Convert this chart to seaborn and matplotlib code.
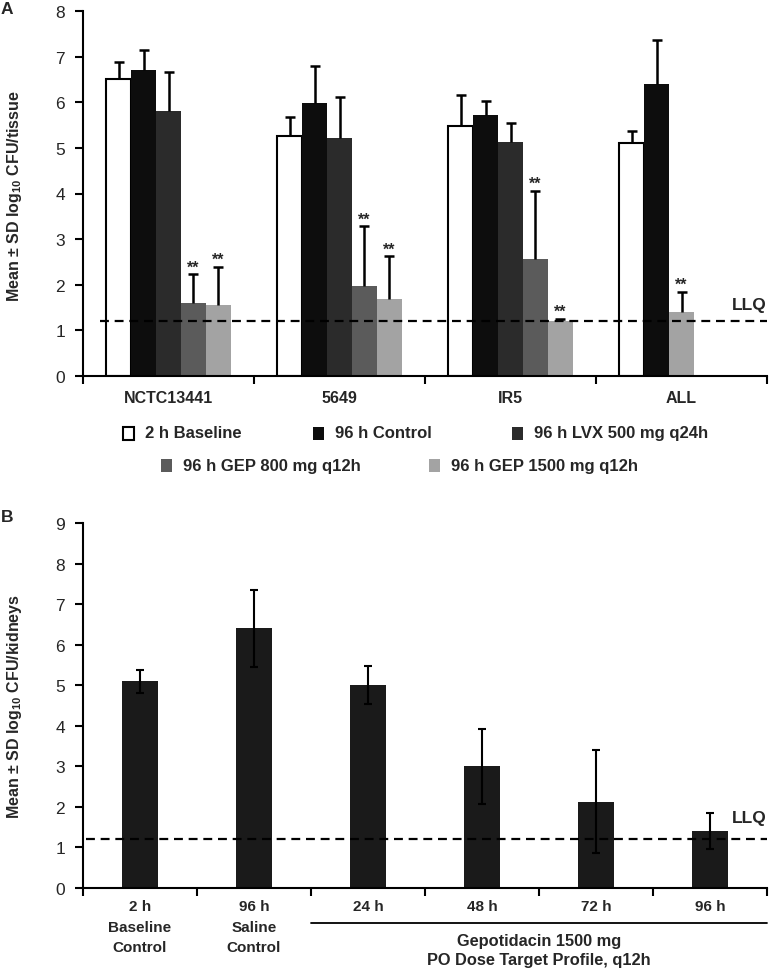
import numpy as np
import pandas as pd
import matplotlib
matplotlib.use("Agg")
import matplotlib.pyplot as plt
import matplotlib.font_manager as fm
from matplotlib.patches import Rectangle
from matplotlib.lines import Line2D
import seaborn as sns

# ---------------- data ----------------
strains = ["NCTC13441", "5649", "IR5", "ALL"]
treatments = ["2 h Baseline", "96 h Control", "96 h LVX 500 mg q24h",
              "96 h GEP 800 mg q12h", "96 h GEP 1500 mg q12h"]
bar_colors = ["#ffffff", "#0d0d0d", "#2b2b2b", "#5b5b5b", "#a3a3a3"]

nan = np.nan
mean_baseline = [6.51, 5.27, 5.48, 5.10]
sd_baseline = [0.37, 0.40, 0.68, 0.27]
mean_control = [6.71, 5.98, 5.71, 6.41]
sd_control = [0.43, 0.81, 0.32, 0.96]
mean_lvx = [5.80, 5.21, 5.13, nan]
sd_lvx = [0.87, 0.91, 0.41, nan]
mean_gep800 = [1.59, 1.97, 2.57, nan]
sd_gep800 = [0.64, 1.31, 1.49, nan]
mean_gep1500 = [1.56, 1.69, 1.21, 1.41]
sd_gep1500 = [0.83, 0.93, 0.04, 0.44]
signif_treatments = ["96 h GEP 800 mg q12h", "96 h GEP 1500 mg q12h"]

b_labels = ["2 h\nBaseline\nControl", "96 h\nSaline\nControl", "24 h", "48 h", "72 h", "96 h"]
b_means = [5.10, 6.41, 5.01, 3.00, 2.13, 1.41]
b_sd = [0.28, 0.95, 0.47, 0.92, 1.27, 0.44]
b_group_label = "Gepotidacin 1500 mg\nPO Dose Target Profile, q12h"

LLQ = 1.2

# ---------------- style ----------------
sns.set_theme(style="ticks")
names = {f.name for f in fm.fontManager.ttflist}
REG = "Liberation Sans" if "Liberation Sans" in names else "DejaVu Sans"
NARROW = "Liberation Sans Narrow" if "Liberation Sans Narrow" in names else REG
plt.rcParams["font.family"] = [REG, "DejaVu Sans"]
plt.rcParams["mathtext.fontset"] = "custom"
plt.rcParams["mathtext.rm"] = REG
plt.rcParams["mathtext.bf"] = REG + ":bold"
plt.rcParams["axes.linewidth"] = 1.5

W, H = 769, 970
fig = plt.figure(figsize=(W / 100, H / 100), dpi=100)
fig.patch.set_facecolor("white")


def fx(px):
    return px / W


def fy(py):
    return 1 - py / H


# ---------------- panel A ----------------
axA = fig.add_axes([fx(83), fy(377), fx(684), 365 / H])
group_w = 0.73
slot = group_w / len(treatments)
means_all = [mean_baseline, mean_control, mean_lvx, mean_gep800, mean_gep1500]
sds_all = [sd_baseline, sd_control, sd_lvx, sd_gep800, sd_gep1500]
rows = []
for si, s in enumerate(strains):
    k = 0
    for ti, t in enumerate(treatments):
        m = means_all[ti][si]
        if np.isnan(m):
            continue
        pos = round(si - group_w / 2 + slot * (k + 0.5), 4)
        rows.append(dict(strain=s, treatment=t, mean=m, sd=sds_all[ti][si], pos=pos))
        k += 1
dfA = pd.DataFrame(rows)

sns.barplot(data=dfA, x="pos", y="mean", hue="treatment", hue_order=treatments,
            palette=dict(zip(treatments, bar_colors)), native_scale=True,
            dodge=False, width=1.0, errorbar=None, legend=False,
            linewidth=0, saturation=1, ax=axA)
for p in axA.patches:
    fc = p.get_facecolor()
    if fc[0] > 0.95:
        p.set_edgecolor("black")
        p.set_linewidth(1.5)
    else:
        p.set_edgecolor(fc)
        p.set_linewidth(0)

axA.vlines(dfA["pos"], dfA["mean"], dfA["mean"] + dfA["sd"], color="black", lw=1.8, zorder=3)
axA.plot(dfA["pos"], dfA["mean"] + dfA["sd"], ls="none", marker="_", ms=7, mew=1.8,
         color="black", zorder=3)
for _, r in dfA[dfA["treatment"].isin(signif_treatments)].iterrows():
    axA.text(r["pos"], r["mean"] + r["sd"] + 0.06, "**", ha="center", va="baseline",
             fontsize=11.5, fontweight="bold")

axA.axhline(LLQ, xmin=0.025, xmax=1, color="black", lw=1.6, ls=(0, (4, 2.6)), zorder=4)
axA.text(3.5, 1.56, "LLQ", ha="right", va="center", fontsize=12.5, fontweight="bold")

axA.set_xlim(-0.5, 3.5)
axA.set_ylim(0, 8)
axA.set_yticks(range(0, 9))
axA.set_xticks(range(len(strains)))
axA.set_xticklabels(strains, fontsize=11.5, fontweight="bold")
axA.set_xticks(np.arange(-0.5, len(strains), 1.0), minor=True)
axA.tick_params(axis="x", which="major", length=0, pad=10)
axA.tick_params(axis="x", which="minor", length=6, width=1.5, color="black")
axA.tick_params(axis="y", length=6, width=1.5, labelsize=12.5, pad=7, color="black")
axA.set_xlabel("")
axA.set_ylabel("")
sns.despine(ax=axA)
for sp in ["left", "bottom"]:
    axA.spines[sp].set_color("black")
    axA.spines[sp].set_linewidth(1.5)
axA.set_facecolor("white")

fig.text(fx(15), fy(196), r"Mean ± SD log$_{\mathregular{10}}$ CFU/tissue", rotation=90,
         ha="center", va="center", fontsize=11.5, fontweight="bold")
fig.text(fx(1), fy(9), "A", ha="left", va="center", fontsize=12.5, fontweight="bold")

# legend (manual, two rows)
leg_items = [(0, 123, 434), (1, 313, 434), (2, 512, 434), (3, 161, 466), (4, 429, 466)]
for ti, x0, yc in leg_items:
    fig.add_artist(Rectangle((fx(x0), fy(yc + 6.5)), fx(11), 13 / H, transform=fig.transFigure,
                             facecolor=bar_colors[ti], edgecolor="black" if ti == 0 else bar_colors[ti],
                             lw=1.5 if ti == 0 else 0))
    fig.text(fx(x0 + 22), fy(yc), treatments[ti], ha="left", va="center",
             fontsize=12, fontweight="bold")

# ---------------- panel B ----------------
axB = fig.add_axes([fx(83), fy(889), fx(684), 365 / H])
dfB = pd.DataFrame(dict(label=b_labels, mean=b_means, sd=b_sd))
sns.barplot(data=dfB, x="label", y="mean", color="#1a1a1a", saturation=1, width=0.32,
            errorbar=None, linewidth=0, ax=axB)
axB.errorbar(np.arange(len(b_labels)), dfB["mean"], yerr=dfB["sd"], fmt="none",
             ecolor="black", elinewidth=1.5, capsize=3, capthick=1.5, zorder=3)
axB.axhline(LLQ, xmin=0.004, xmax=1, color="black", lw=1.6, ls=(0, (4, 2.6)), zorder=4)
axB.text(5.5, 1.75, "LLQ", ha="right", va="center", fontsize=12.5, fontweight="bold",
         family=[NARROW, "DejaVu Sans"])
axB.set_xlim(-0.5, 5.5)
axB.set_ylim(0, 9)
axB.set_yticks(range(0, 10))
axB.set_xticks(range(len(b_labels)))
axB.set_xticklabels(b_labels, fontsize=11, fontweight="bold", family=[NARROW, "DejaVu Sans"],
                    linespacing=1.6)
axB.set_xticks(np.arange(-0.5, len(b_labels), 1.0), minor=True)
axB.tick_params(axis="x", which="major", length=0, pad=8)
axB.tick_params(axis="x", which="minor", length=6, width=1.5, color="black")
axB.tick_params(axis="y", length=6, width=1.5, labelsize=12.5, pad=7, color="black")
for lab in axB.get_yticklabels():
    lab.set_family([NARROW, "DejaVu Sans"])
axB.set_xlabel("")
axB.set_ylabel("")
sns.despine(ax=axB)
for sp in ["left", "bottom"]:
    axB.spines[sp].set_color("black")
    axB.spines[sp].set_linewidth(1.5)
axB.set_facecolor("white")

# group line and label under timepoints
fig.add_artist(Line2D([fx(311), fx(767)], [fy(924), fy(924)], color="black", lw=1.3,
                      transform=fig.transFigure))
fig.text(fx(539), fy(951), b_group_label, ha="center", va="center", fontsize=11.8,
         fontweight="bold", family=[NARROW, "DejaVu Sans"], linespacing=1.3)

fig.text(fx(15), fy(706), r"Mean ± SD log$_{\mathregular{10}}$ CFU/kidneys", rotation=90,
         ha="center", va="center", fontsize=11.5, fontweight="bold")
fig.text(fx(1), fy(518), "B", ha="left", va="center", fontsize=12.5, fontweight="bold")

fig.savefig("out.png", dpi=100, facecolor="white")
